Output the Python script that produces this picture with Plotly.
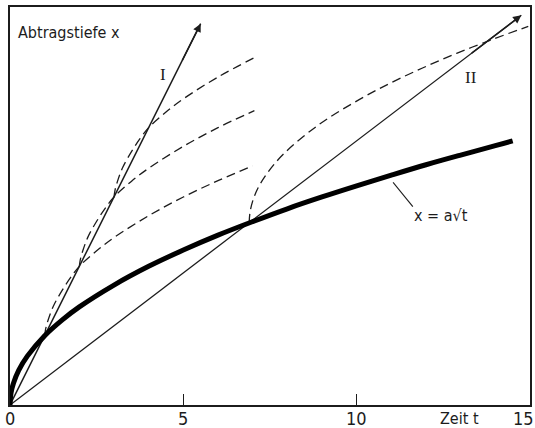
import plotly.graph_objects as go

# ---- data (t = Zeit, x = Abtragstiefe) ----
curve_t = [0, 0.03, 0.1, 0.25, 0.5, 1, 1.5, 2, 3, 4, 5, 6, 7, 8, 9, 10, 11, 12, 13, 14, 14.5]
curve_x = [0, 0.35, 0.63, 1.0, 1.41, 2.0, 2.45, 2.83, 3.46, 4.0, 4.47, 4.9, 5.29, 5.66, 6.0, 6.32, 6.63, 6.93, 7.21, 7.48, 7.62]

line1_t = [0, 5.5]
line1_x = [0, 11.0]
line2_t = [0, 14.75]
line2_x = [0, 11.24]

dash1_t = [1, 1.03, 1.1, 1.25, 1.5, 1.75, 2, 2.5, 3, 4, 5, 6, 7]
dash1_x = [2, 2.2, 2.45, 2.85, 3.3, 3.68, 4.0, 4.45, 4.83, 5.46, 6.0, 6.47, 6.9]
dash2_t = [2, 2.03, 2.1, 2.25, 2.5, 2.75, 3, 3.5, 4, 5, 6, 7.05]
dash2_x = [4, 4.2, 4.45, 4.85, 5.3, 5.68, 6.0, 6.45, 6.83, 7.46, 8.0, 8.49]
dash3_t = [3, 3.03, 3.1, 3.25, 3.5, 3.75, 4, 4.5, 5, 6, 7.15]
dash3_x = [6, 6.2, 6.45, 6.85, 7.3, 7.68, 8.0, 8.45, 8.83, 9.46, 10.07]
dash4_t = [6.9, 6.92, 7.0, 7.15, 7.4, 7.9, 8.9, 9.9, 10.9, 11.9, 12.9, 13.9, 14.95]
dash4_x = [5.25, 5.53, 5.88, 6.25, 6.66, 7.25, 8.08, 8.71, 9.25, 9.72, 10.15, 10.54, 10.92]

leader_t = [11.05, 11.62]
leader_x = [6.42, 5.72]

tick_vals = [0, 5, 10, 15]
tick_text = ["0", "5", "10", "15"]

INK = "#1c1c1c"
FONT = "DejaVu Sans Condensed, Liberation Sans Narrow, Arial Narrow, sans-serif"

fig = go.Figure()

for tt, xx in [(dash1_t, dash1_x), (dash2_t, dash2_x), (dash3_t, dash3_x), (dash4_t, dash4_x)]:
    fig.add_trace(go.Scatter(x=tt, y=xx, mode="lines",
                             line=dict(color=INK, width=1.3, dash="9px,5px", shape="spline"),
                             hoverinfo="skip", showlegend=False))

fig.add_trace(go.Scatter(x=line1_t, y=line1_x, mode="lines",
                         line=dict(color=INK, width=1.5), showlegend=False))
fig.add_trace(go.Scatter(x=line2_t, y=line2_x, mode="lines",
                         line=dict(color=INK, width=1.3), showlegend=False))
fig.add_trace(go.Scatter(x=curve_t, y=curve_x, mode="lines",
                         line=dict(color="#000000", width=5, shape="spline"),
                         showlegend=False))
fig.add_trace(go.Scatter(x=leader_t, y=leader_x, mode="lines",
                         line=dict(color=INK, width=1.1), showlegend=False))

# arrowheads at the ends of lines I and II
for tt, xx in [(line1_t, line1_x), (line2_t, line2_x)]:
    f = 0.9
    fig.add_annotation(x=tt[1], y=xx[1], xref="x", yref="y",
                       ax=tt[0] + f * (tt[1] - tt[0]), ay=xx[0] + f * (xx[1] - xx[0]),
                       axref="x", ayref="y", text="", showarrow=True,
                       arrowhead=2, arrowsize=1.1, arrowwidth=1.5, arrowcolor=INK)

# labels
fig.add_annotation(x=0.0, y=0.937, xref="paper", yref="paper", text="Abtragstiefe x",
                   showarrow=False, xanchor="left", yanchor="middle", xshift=6,
                   font=dict(family=FONT, size=16, color=INK))
fig.add_annotation(x=4.42, y=9.54, xref="x", yref="y", text="I", showarrow=False,
                   font=dict(family="Liberation Serif, serif", size=17, color=INK))
fig.add_annotation(x=13.3, y=9.45, xref="x", yref="y", text="II", showarrow=False,
                   font=dict(family="Liberation Serif, serif", size=17, color=INK))
fig.add_annotation(x=12.43, y=5.46, xref="x", yref="y", text="x = a√t",
                   showarrow=False, xanchor="center", yanchor="middle",
                   font=dict(family=FONT, size=16, color=INK))
fig.add_annotation(x=12.97, y=0, xref="x", yref="paper", text="Zeit t",
                   showarrow=False, yanchor="top", yshift=-2,
                   font=dict(family=FONT, size=16, color=INK))

# tick labels
for v, s in zip(tick_vals, tick_text):
    kw = dict(xanchor="center")
    if v == tick_vals[-1]:
        kw = dict(xanchor="right", xshift=6)
    fig.add_annotation(x=v, y=0, xref="x", yref="paper", text=s, showarrow=False,
                       yanchor="top", yshift=-1,
                       font=dict(family=FONT, size=18, color=INK), **kw)

fig.update_xaxes(range=[0, 15], tickvals=tick_vals, showticklabels=False,
                 ticks="inside", ticklen=11, tickwidth=1.3, tickcolor=INK,
                 showline=True, linewidth=2, linecolor=INK, mirror=True,
                 showgrid=False, zeroline=False, automargin=False)
fig.update_yaxes(range=[0, 11.48], showticklabels=False, ticks="",
                 showline=True, linewidth=2, linecolor=INK, mirror=True,
                 showgrid=False, zeroline=False, automargin=False)

fig.update_layout(width=535, height=428,
                  margin=dict(l=10, r=5, t=7, b=23, autoexpand=False),
                  paper_bgcolor="white", plot_bgcolor="white")

fig.write_html("out.html", config={"displayModeBar": False},
               post_script="document.body.style.margin='0px';document.body.style.overflow='hidden';")
